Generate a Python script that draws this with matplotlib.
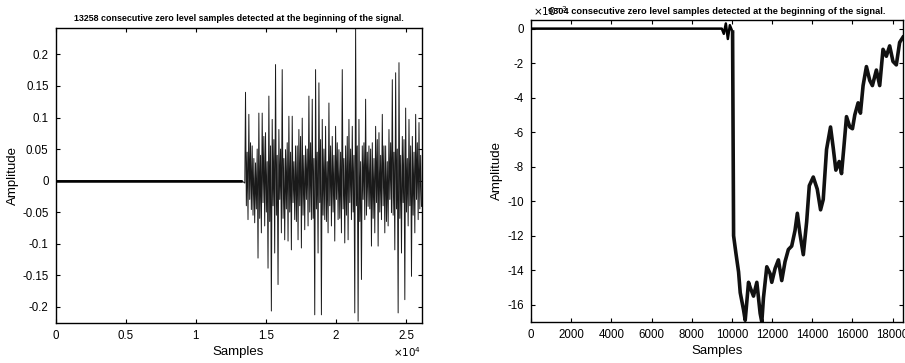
import numpy as np
import matplotlib
matplotlib.use("Agg")
import matplotlib.pyplot as plt

plt.rcParams['font.family'] = ['Liberation Sans', 'DejaVu Sans']

# ---------------- data: left panel ----------------
left_title = "13258 consecutive zero level samples detected at the beginning of the signal."
left_zero_run = 13258
left_end = 26100
# per-column upper / lower excursions (left to right)
left_hi = [0.140, 0.105, 0.055, 0.028, 0.107, 0.107, 0.076, 0.134, 0.097, 0.184,
           0.081, 0.176, 0.049, 0.102, 0.102, 0.055, 0.081, 0.099, 0.055, 0.134,
           0.129, 0.176, 0.155, 0.097, 0.086, 0.123, 0.070, 0.086, 0.049, 0.176,
           0.055, 0.097, 0.086, 0.242, 0.097, 0.055, 0.129, 0.055, 0.060, 0.086,
           0.076, 0.105, 0.055, 0.081, 0.160, 0.171, 0.187, 0.070, 0.115, 0.097,
           0.070, 0.105, 0.092]
left_lo = [-0.062, -0.046, -0.067, -0.123, -0.083, -0.072, -0.139, -0.207, -0.115, -0.165,
           -0.083, -0.094, -0.096, -0.110, -0.062, -0.094, -0.107, -0.078, -0.072, -0.062,
           -0.213, -0.115, -0.213, -0.062, -0.083, -0.072, -0.096, -0.062, -0.083, -0.099,
           -0.094, -0.062, -0.210, -0.223, -0.157, -0.062, -0.041, -0.104, -0.083, -0.104,
           -0.062, -0.083, -0.072, -0.051, -0.110, -0.210, -0.115, -0.189, -0.072, -0.152,
           -0.083, -0.062, -0.041]
# inner (dense band) excursions between the big spikes
left_mid_hi = [0.045, 0.060, 0.035, 0.050, 0.040, 0.070, 0.030, 0.055, 0.065, 0.040,
               0.050, 0.035, 0.060, 0.045, 0.030, 0.055, 0.070, 0.040, 0.050, 0.060,
               0.035, 0.045, 0.065, 0.050, 0.030, 0.055, 0.040, 0.060, 0.045, 0.035,
               0.070, 0.050, 0.040, 0.055, 0.030, 0.060, 0.045, 0.050, 0.035, 0.065,
               0.040, 0.055, 0.030, 0.060, 0.045, 0.050, 0.040, 0.065, 0.035, 0.055,
               0.045, 0.060, 0.040]
left_mid_lo = [-0.040, -0.030, -0.055, -0.045, -0.060, -0.035, -0.050, -0.065, -0.040, -0.055,
               -0.030, -0.060, -0.045, -0.050, -0.035, -0.065, -0.040, -0.055, -0.030, -0.050,
               -0.060, -0.045, -0.035, -0.055, -0.065, -0.040, -0.050, -0.030, -0.060, -0.045,
               -0.055, -0.035, -0.050, -0.040, -0.065, -0.030, -0.055, -0.045, -0.060, -0.035,
               -0.050, -0.040, -0.065, -0.030, -0.055, -0.045, -0.060, -0.035, -0.050, -0.040,
               -0.055, -0.030, -0.045]
left_xticks = [0, 5000, 10000, 15000, 20000, 25000]
left_xticklabels = ['0', '0.5', '1', '1.5', '2', '2.5']
left_yticks = [-0.2, -0.15, -0.1, -0.05, 0, 0.05, 0.1, 0.15, 0.2]
left_yticklabels = ['-0.2', '-0.15', '-0.1', '-0.05', '0', '0.05', '0.1', '0.15', '0.2']

# ---------------- data: right panel (amplitude x 1e-3) ----------------
right_title = "9304 consecutive zero level samples detected at the beginning of the signal."
right_flat_x = [0, 9304, 9500, 9600, 9700, 9800, 9900, 10036]
right_flat_y = [0.0, 0.0, 0.0, -0.3, 0.3, -0.6, 0.2, -0.2]
right_x = [10036, 10086, 10200, 10334, 10416,
           10582, 10664, 10829, 10912, 11077, 11243, 11408, 11491, 11573, 11739, 11904,
           11987, 12152, 12317, 12483, 12648, 12813, 12979, 13144, 13260, 13392, 13557,
           13723, 13855, 14053, 14251, 14416, 14549, 14714, 14912, 15045, 15178, 15343,
           15459, 15574, 15707, 15872, 16004, 16120, 16285, 16401, 16533, 16699, 16864,
           16996, 17195, 17360, 17525, 17691, 17856, 18021, 18187, 18352, 18517]
right_y = [-0.2, -12.0, -13.0, -14.1, -15.3,
           -16.3, -16.9, -14.7, -15.0, -15.5, -14.7, -16.5, -17.0, -15.6, -13.8, -14.2,
           -14.7, -13.9, -13.4, -14.6, -13.5, -12.8, -12.6, -11.7, -10.7, -11.9, -13.1,
           -11.2, -9.1, -8.6, -9.3, -10.5, -9.9, -7.0, -5.7, -6.9, -8.2, -7.7,
           -8.4, -6.9, -5.1, -5.7, -5.8, -5.0, -4.3, -4.9, -3.3, -2.2, -3.0,
           -3.3, -2.4, -3.3, -1.2, -1.6, -1.0, -1.9, -2.1, -0.8, -0.5]
right_xticks = [0, 2000, 4000, 6000, 8000, 10000, 12000, 14000, 16000, 18000]
right_yticks = [0, -2, -4, -6, -8, -10, -12, -14, -16]

# ---------------- figure ----------------
W, H = 905, 363
fig = plt.figure(figsize=(W / 100, H / 100), dpi=100)
fig.patch.set_facecolor('white')

axL = fig.add_axes([55.5 / W, (H - 323) / H, 366 / W, 295 / H])
axR = fig.add_axes([531 / W, (H - 322) / H, 372 / W, 302 / H])

# left signal
n = len(left_hi)
sig_y = np.empty(4 * n)
sig_y[0::4] = left_hi
sig_y[1::4] = left_mid_lo
sig_y[2::4] = left_mid_hi
sig_y[3::4] = left_lo
col_x = np.linspace(13550, left_end, 4 * n)
lx = np.concatenate([[0, left_zero_run, 13500], col_x])
ly = np.concatenate([[0, 0, -0.004], sig_y])
axL.plot(lx, ly, color='#1a1a1a', lw=0.7)
axL.plot([0, left_zero_run], [0, 0], color='black', lw=1.8)
axL.set_xlim(0, left_end)
axL.set_ylim(-0.226, 0.242)
axL.set_xticks(left_xticks)
axL.set_xticklabels(left_xticklabels)
axL.set_yticks(left_yticks)
axL.set_yticklabels(left_yticklabels)
axL.set_xlabel('Samples', fontsize=9.5, labelpad=3)
axL.set_ylabel('Amplitude', fontsize=9.5, labelpad=2)
axL.set_title(left_title, fontsize=6.4, fontweight='bold', pad=5)
axL.text(1.0, -0.10, r'$\times10^{4}$', transform=axL.transAxes, ha='right', va='center', fontsize=7.5)

# right signal
axR.plot(right_flat_x, np.array(right_flat_y) * 1e-3, color='black', lw=1.8)
axR.plot(right_x, np.array(right_y) * 1e-3, color='#111111', lw=2.6)
axR.set_xlim(0, 18520)
axR.set_ylim(-17.0e-3, 0.5e-3)
axR.set_xticks(right_xticks)
axR.set_xticklabels([str(v) for v in right_xticks])
axR.set_yticks(np.array(right_yticks) * 1e-3)
axR.set_yticklabels([str(v) for v in right_yticks])
axR.set_xlabel('Samples', fontsize=9.5, labelpad=3)
axR.set_ylabel('Amplitude', fontsize=9.5, labelpad=3)
axR.set_title(right_title, fontsize=6.7, fontweight='bold', pad=4)
axR.text(0.005, 1.005, r'$\times10^{-3}$', transform=axR.transAxes, ha='left', va='bottom', fontsize=7.5)

for ax in (axL, axR):
    ax.tick_params(direction='in', top=True, right=True, length=3, width=0.8,
                   labelsize=8.3, pad=5)
    for s in ax.spines.values():
        s.set_linewidth(1.0)

fig.savefig('out.png', dpi=100, facecolor='white')
